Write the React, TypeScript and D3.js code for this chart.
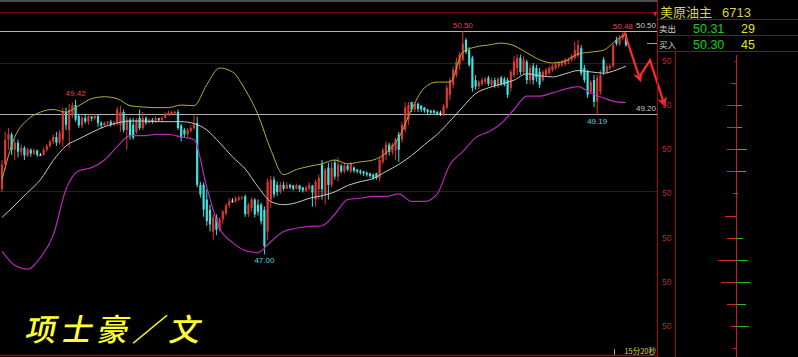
import React from "react";
import * as d3 from "d3";

// ---------- data ----------
const opens = [48.02,48.41,48.80,48.88,48.64,48.75,48.61,48.67,48.55,48.64,
 48.58,48.63,48.56,48.56,48.64,48.70,48.77,48.84,48.75,48.80,
 49.23,48.95,49.19,49.34,49.17,49.02,49.14,49.08,49.16,49.13,
 49.17,49.06,49.02,49.06,49.08,49.03,49.06,49.03,49.23,48.95,
 49.11,49.03,48.92,49.14,48.98,49.14,49.06,49.11,49.08,49.13,
 49.11,49.14,49.19,49.20,49.22,49.23,49.02,48.95,48.88,48.94,
 48.98,49.06,48.09,48.09,47.86,47.70,47.36,47.58,47.39,47.55,
 47.64,47.77,47.84,47.83,47.86,47.88,47.91,47.63,47.73,47.86,
 47.78,47.78,47.70,47.36,47.86,48.17,48.09,47.98,48.09,48.03,
 48.09,48.08,48.03,48.08,48.05,48.00,48.03,48.08,47.86,48.02,
 48.41,47.94,48.36,48.09,48.44,48.22,48.39,48.30,48.39,48.30,
 48.36,48.33,48.31,48.30,48.28,48.27,48.25,48.27,48.20,48.45,
 48.56,48.72,48.61,48.64,48.88,48.80,48.95,49.11,49.39,49.27,
 49.36,49.33,49.30,49.27,49.25,49.25,49.23,49.22,49.20,49.30,
 49.50,49.66,49.81,49.97,50.05,50.36,50.20,50.08,49.73,49.63,
 49.67,49.70,49.77,49.66,49.73,49.64,49.77,49.75,49.73,49.61,
 49.81,49.92,50.08,49.86,50.02,49.73,49.95,49.92,49.86,49.73,
 49.81,49.84,49.89,49.92,49.95,49.97,49.98,50.02,50.05,50.08,
 50.11,50.23,49.92,49.86,49.55,49.73,49.39,49.55,50.05,49.86,
 49.92,49.95,50.36,50.30,50.39,50.44];

const closes = [48.41,48.80,48.88,48.64,48.75,48.61,48.67,48.55,48.64,48.58,
 48.63,48.56,48.56,48.64,48.70,48.77,48.84,48.75,48.91,49.23,
 49.03,49.27,49.34,49.11,49.02,49.14,49.08,49.16,49.13,49.17,
 49.06,49.02,49.06,49.08,49.03,49.06,49.27,49.23,48.95,49.11,
 48.86,48.83,49.11,48.98,49.14,49.06,49.11,49.08,49.13,49.13,
 49.14,49.20,49.22,49.23,49.23,48.98,48.83,48.88,48.95,48.98,
 49.03,48.09,47.94,47.70,47.52,47.47,47.58,47.39,47.55,47.67,
 47.77,47.83,47.84,47.88,47.89,47.89,47.63,47.78,47.86,47.63,
 47.67,47.52,47.13,48.14,48.17,47.94,47.98,48.09,48.03,48.09,
 48.05,48.03,48.08,48.02,48.00,48.05,48.09,47.97,48.14,48.20,
 48.02,48.33,48.09,48.36,48.22,48.41,48.30,48.39,48.33,48.42,
 48.31,48.30,48.28,48.27,48.25,48.23,48.20,48.20,48.48,48.64,
 48.72,48.61,48.72,48.80,48.64,49.03,49.30,49.34,49.27,49.36,
 49.28,49.27,49.25,49.23,49.22,49.22,49.20,49.22,49.33,49.61,
 49.73,49.89,50.02,50.13,50.30,50.17,49.97,49.61,49.63,49.70,
 49.73,49.75,49.67,49.73,49.64,49.75,49.67,49.66,49.50,49.86,
 50.02,50.08,49.86,50.05,49.73,49.92,49.73,49.77,49.66,49.86,
 49.89,49.92,49.95,49.98,50.00,50.02,50.05,50.06,50.11,50.20,
 50.28,49.84,49.73,49.50,49.70,49.39,49.77,49.81,49.86,49.95,
 49.95,50.28,50.30,50.39,50.45,50.28];

const highs = [48.48,48.92,48.98,48.91,48.80,48.80,48.72,48.70,48.67,48.66,
 48.66,48.64,48.59,48.67,48.73,48.80,48.88,48.92,48.95,49.30,
 49.30,49.36,49.38,49.42,49.20,49.17,49.19,49.19,49.17,49.20,
 49.19,49.09,49.08,49.09,49.11,49.09,49.31,49.33,49.27,49.16,
 49.14,49.14,49.14,49.27,49.23,49.16,49.13,49.14,49.16,49.14,
 49.16,49.23,49.25,49.25,49.25,49.27,49.05,48.98,48.98,49.02,
 49.19,49.16,48.14,48.13,48.02,47.78,47.63,47.63,47.58,47.70,
 47.80,47.88,47.88,47.91,47.92,47.92,47.94,47.81,47.89,47.88,
 47.86,47.81,47.75,48.19,48.23,48.22,48.14,48.14,48.14,48.13,
 48.11,48.09,48.11,48.09,48.06,48.08,48.13,48.09,48.17,48.25,
 48.48,48.36,48.44,48.45,48.48,48.52,48.42,48.44,48.42,48.45,
 48.38,48.34,48.33,48.31,48.30,48.28,48.27,48.28,48.53,48.67,
 48.77,48.75,48.75,48.83,48.92,49.08,49.38,49.39,49.39,49.39,
 49.38,49.34,49.31,49.28,49.27,49.27,49.25,49.25,49.36,49.66,
 49.77,49.94,50.08,50.17,50.50,50.39,50.25,50.11,49.81,49.73,
 49.77,49.78,49.80,49.77,49.77,49.78,49.80,49.78,49.77,49.89,
 50.11,50.13,50.13,50.11,50.05,49.97,50.00,49.97,49.92,49.89,
 49.92,49.95,49.98,50.02,50.03,50.05,50.08,50.09,50.14,50.33,
 50.36,50.28,49.97,49.89,49.73,49.81,49.81,49.89,50.09,49.98,
 49.98,50.31,50.41,50.44,50.48,50.47];

const lows = [47.98,48.33,48.64,48.56,48.48,48.52,48.55,48.48,48.52,48.53,
 48.56,48.53,48.55,48.55,48.61,48.67,48.73,48.70,48.72,48.69,
 48.95,48.67,49.14,49.08,48.98,48.98,49.05,49.03,49.09,49.11,
 49.00,48.98,49.00,49.03,49.00,49.02,49.02,48.92,48.91,48.64,
 48.80,48.80,48.89,48.95,48.95,49.03,49.05,49.05,49.06,49.09,
 49.08,49.13,49.17,49.19,49.19,48.95,48.77,48.83,48.84,48.91,
 48.95,48.05,47.89,47.59,47.45,47.36,47.23,47.30,47.36,47.48,
 47.61,47.73,47.81,47.81,47.84,47.86,47.59,47.59,47.67,47.58,
 47.61,47.47,47.00,47.23,47.73,47.89,47.92,47.95,48.00,48.02,
 48.02,48.00,48.02,47.98,47.97,47.98,48.00,47.75,47.75,47.86,
 47.86,47.78,47.86,48.05,48.17,48.14,48.27,48.27,48.30,48.27,
 48.28,48.27,48.25,48.23,48.22,48.20,48.17,48.17,48.14,48.41,
 48.48,48.55,48.56,48.48,48.45,48.75,48.91,49.03,49.23,49.23,
 49.23,49.23,49.22,49.20,49.20,49.19,49.19,49.17,49.17,49.27,
 49.42,49.61,49.77,49.89,50.02,50.14,49.94,49.55,49.58,49.59,
 49.64,49.67,49.64,49.63,49.61,49.61,49.64,49.63,49.45,49.55,
 49.77,49.81,49.81,49.81,49.67,49.67,49.66,49.70,49.61,49.70,
 49.78,49.81,49.86,49.89,49.92,49.94,49.95,49.98,50.02,50.05,
 50.08,49.80,49.69,49.45,49.52,49.31,49.19,49.50,49.81,49.83,
 49.89,49.92,50.27,50.27,50.36,50.25];

// Bollinger bands sampled at these candle indices
const bandIdx = [0,4,8,12,16,20,24,28,32,36,40,44,48,52,56,60,64,68,72,76,
 80,84,88,92,96,100,104,108,112,116,120,124,128,132,136,140,144,148,152,156,
 160,164,168,172,176,180,184,188,192,195];
const upperBand = [48.17,48.84,49.11,49.23,49.27,49.23,49.33,49.44,49.47,49.44,
 49.33,49.31,49.30,49.30,49.34,49.33,49.66,49.92,49.86,49.58,
 49.19,48.64,48.25,48.33,48.38,48.42,48.48,48.42,48.45,48.48,
 48.59,48.83,49.27,49.61,49.70,49.70,50.17,50.25,50.28,50.31,
 50.27,50.16,50.05,50.00,50.03,50.14,50.17,50.20,50.36,50.45];
const middleBand = [47.58,47.77,47.97,48.17,48.47,48.70,48.81,48.91,49.00,49.06,
 49.09,49.09,49.08,49.08,49.08,49.05,48.95,48.75,48.53,48.34,
 48.06,47.83,47.78,47.81,47.88,47.92,47.98,48.08,48.14,48.19,
 48.30,48.41,48.55,48.72,48.88,49.09,49.31,49.52,49.61,49.67,
 49.73,49.83,49.80,49.78,49.83,49.88,49.86,49.84,49.89,49.95];
const lowerBand = [47.05,46.83,46.77,46.95,47.30,48.02,48.31,48.36,48.48,48.69,
 48.86,48.86,48.88,48.88,48.84,48.80,48.05,47.41,47.19,47.06,
 47.03,47.20,47.36,47.41,47.44,47.45,47.63,47.86,47.88,47.91,
 47.91,47.95,47.83,47.83,47.95,48.41,48.61,48.83,48.92,49.05,
 49.27,49.48,49.48,49.53,49.59,49.63,49.53,49.45,49.39,49.38];

// extreme labels
const markText = ["49.42", "50.50", "50.48", "49.19", "47.00"];
const markIndex = [23, 144, 194, 186, 82];
const markIsHigh = [true, true, true, false, false];

// reference price lines
const refLevels = [50.50, 49.20];
const refText = ["50.50", "49.20"];
const gridLevels = [50.80, 50.00, 48.00];

// forecast arrows (candle index, price)
const arrowA = [[194.5, 50.48], [199, 49.80]];
const arrowB = [[199.4, 49.80], [202.5, 50.04], [206.6, 49.41]];

// quote panel
const quoteTitle = "美原油主";
const quoteCode = "6713";
const quoteLabels = ["卖出", "买入"];
const quotePrices = ["50.31", "50.30"];
const quoteVols = ["29", "45"];

// depth ladder
const ladderSell = [1, 5, 9, 9, 9, 9, 3, 11, 9, 18, 15, 9, 5, 3];
const ladderBuy = [0, 0, 6, 6, 11, 10, 2, 0, 7, 12, 14, 10, 13, 0];
const ladderLabel = "50";

const timerText = "15分20秒";
const authorChars = ["项", "士", "豪", "／", "文"];

const W = 798;
const H = 357;

export default function App() {
  const N = closes.length;
  const x = d3.scaleLinear().domain([0, N - 1]).range([2, 2 + 3.2 * (N - 1)]);
  const y = d3.scaleLinear().domain([49.2, 50.5]).range([114, 31]);
  const chartRight = 657;

  const bandLine = (vals: number[]) =>
    d3
      .line<number>()
      .x((_, k) => x(bandIdx[k]))
      .y((d) => y(d))
      .curve(d3.curveMonotoneX)(vals) as string;

  const arrowLine = d3
    .line<number[]>()
    .x((d) => x(d[0]))
    .y((d) => y(d[1]));

  const rowY = d3.scaleLinear().domain([0, ladderSell.length - 1]).range([61, 348]);
  const vol = d3.scaleLinear().domain([0, 20]).range([0, 20]);
  const ladderX = 736;
  const authorX = d3.scaleLinear().domain([0, authorChars.length - 1]).range([24, 168]);

  const numFont = "'Liberation Sans', Arial, sans-serif";
  const cjkFont = "'Noto Sans CJK SC', sans-serif";

  return (
    <svg
      width={W}
      height={H}
      style={{ position: "absolute", left: 0, top: 0, display: "block" }}
    >
      <defs>
        <marker id="ah" markerWidth="10" markerHeight="10" refX="3" refY="5" orient="auto" markerUnits="userSpaceOnUse">
          <path d="M0,0 L10,5 L0,10 L3,5 Z" fill="#ff2a2a" />
        </marker>
      </defs>
      <rect x={0} y={0} width={W} height={H} fill="#000" />

      {/* top frame */}
      <line x1={0} x2={chartRight} y1={1} y2={1} stroke="#9a9a9a" strokeWidth={1} />
      {gridLevels.map((p, k) => (
        <line key={"g" + k} x1={0} x2={chartRight} y1={Math.round(y(p)) + 0.5} y2={Math.round(y(p)) + 0.5} stroke="#6e0000" strokeWidth={1} />
      ))}
      <line x1={0} x2={chartRight} y1={355.5} y2={355.5} stroke="#a00000" strokeWidth={1.5} />
      {refLevels.map((p, k) => (
        <g key={"r" + k}>
          <line x1={0} x2={chartRight} y1={Math.round(y(p)) + 0.5} y2={Math.round(y(p)) + 0.5} stroke="#b4b4b4" strokeWidth={1} />
          <text x={chartRight - 1} y={y(p) - 3} textAnchor="end" fontSize={8} fill="#c8c8c8" fontFamily={numFont}>
            {refText[k]}
          </text>
        </g>
      ))}
      <path d={`M${chartRight - 4},12 L${chartRight},12 L${chartRight - 2},17 Z`} fill="#e02020" />

      {/* candles */}
      {closes.map((c, i) => {
        const o = opens[i];
        const cx = x(i);
        const up = c > o;
        const flat = c === o;
        const col = flat ? "#e6e6e6" : up ? "#d83a36" : "#48dede";
        const top = y(Math.max(o, c));
        const bot = y(Math.min(o, c));
        return (
          <g key={"c" + i}>
            <line x1={cx} x2={cx} y1={y(highs[i])} y2={y(lows[i])} stroke={col} strokeWidth={1} />
            <rect x={cx - 1.1} y={top} width={2.2} height={Math.max(1, bot - top)} fill={col} />
          </g>
        );
      })}

      {/* bands */}
      <path d={bandLine(upperBand)} fill="none" stroke="#b0b03a" strokeWidth={1} />
      <path d={bandLine(middleBand)} fill="none" stroke="#c8c8c8" strokeWidth={1} />
      <path d={bandLine(lowerBand)} fill="none" stroke="#b42ab4" strokeWidth={1.2} />

      {/* extreme labels */}
      {markText.map((t, k) => {
        const i = markIndex[k];
        const hi = markIsHigh[k];
        const py = hi ? y(highs[i]) - 3.5 : y(lows[i]) + 9;
        return (
          <text key={"m" + k} x={x(i)} y={py} textAnchor="middle" fontSize={8} fontFamily={numFont} fill={hi ? "#e04848" : "#48d8e0"}>
            {t}
          </text>
        );
      })}

      {/* forecast arrows */}
      <path d={arrowLine(arrowA as any) as string} fill="none" stroke="#ff2a2a" strokeWidth={2.2} markerEnd="url(#ah)" />
      <path d={arrowLine(arrowB as any) as string} fill="none" stroke="#ff2a2a" strokeWidth={2.2} markerEnd="url(#ah)" />

      {/* timer */}
      <line x1={614.5} x2={614.5} y1={349} y2={355} stroke="#9a9a9a" />
      <text x={chartRight - 1} y={354} textAnchor="end" fontSize={7.5} fill="#d8d840" fontFamily={cjkFont}>
        {timerText}
      </text>

      {/* author watermark */}
      <g transform="translate(0,341) skewX(-12)">
        {authorChars.map((ch, k) => (
          <text key={"a" + k} x={authorX(k)} y={0} fontSize={31} fill="#ffff30" fontFamily={cjkFont} fontWeight={500}>
            {ch}
          </text>
        ))}
      </g>

      {/* right panel */}
      <line x1={chartRight + 0.5} x2={chartRight + 0.5} y1={0} y2={H} stroke="#b00000" strokeWidth={1} />
      {[19.5, 35.5, 51.5].map((ly, k) => (
        <line key={"pl" + k} x1={chartRight} x2={W} y1={ly} y2={ly} stroke="#b00000" strokeWidth={1} />
      ))}
      <text x={660} y={17} fontSize={13} fill="#d4d44a" fontFamily={cjkFont}>{quoteTitle}</text>
      <text x={722} y={17} fontSize={13} fill="#d4d44a" fontFamily={numFont}>{quoteCode}</text>
      {quoteLabels.map((t, k) => (
        <g key={"q" + k}>
          <text x={659} y={32 + k * 16} fontSize={8.5} fill="#d0d0d0" fontFamily={cjkFont}>{t}</text>
          <text x={693} y={33 + k * 16} fontSize={12.5} fill="#14d214" fontFamily={numFont}>{quotePrices[k]}</text>
          <text x={741} y={33 + k * 16} fontSize={12.5} fill="#e0e020" fontFamily={numFont}>{quoteVols[k]}</text>
        </g>
      ))}
      <line x1={647} x2={657} y1={43.5} y2={43.5} stroke="#b0b03a" strokeWidth={1} />
      <line x1={675.5} x2={675.5} y1={52} y2={H} stroke="#b00000" strokeWidth={1} />
      <line x1={ladderX + 0.5} x2={ladderX + 0.5} y1={55} y2={H} stroke="#c02020" strokeWidth={1} />
      {ladderSell.map((s, k) => (
        <g key={"ld" + k}>
          {s > 0 && (
            <line x1={ladderX - vol(s)} x2={ladderX + 0.5} y1={Math.round(rowY(k)) + 0.5} y2={Math.round(rowY(k)) + 0.5} stroke="#d02828" strokeWidth={1} />
          )}
          {ladderBuy[k] > 0 && (
            <line x1={ladderX + 0.5} x2={ladderX + vol(ladderBuy[k])} y1={Math.round(rowY(k)) + 0.5} y2={Math.round(rowY(k)) + 0.5} stroke="#20c020" strokeWidth={1} />
          )}
          {k % 2 === 0 && (
            <text x={662} y={rowY(k) + 3} fontSize={8.5} fill="#b03030" fontFamily={numFont}>{ladderLabel}</text>
          )}
        </g>
      ))}
    </svg>
  );
}
